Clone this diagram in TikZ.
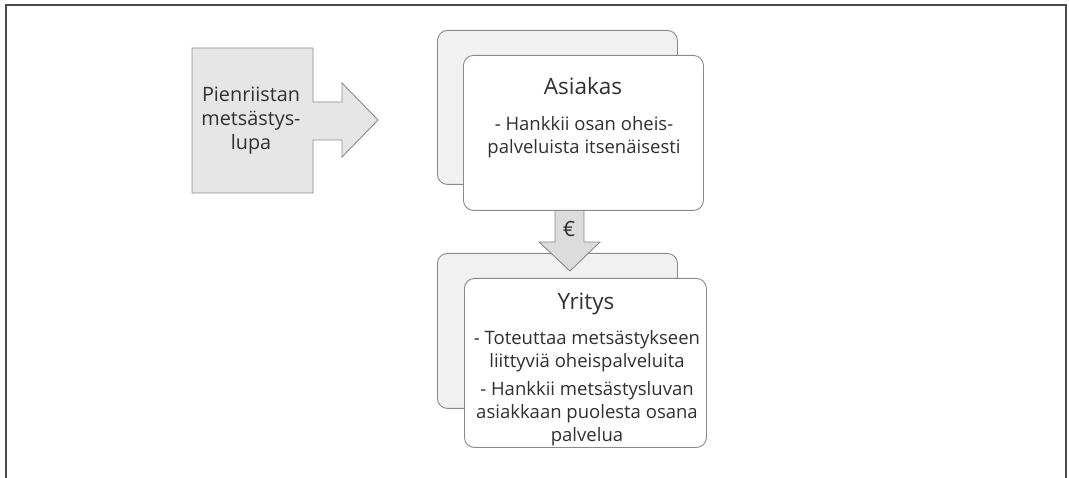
\documentclass[tikz,border=0pt]{standalone}
\usepackage{fontspec}
\setmainfont{Open Sans}
\definecolor{edge}{HTML}{8A8A8A}
\definecolor{frame}{HTML}{4A4A4A}
\definecolor{ink}{HTML}{303030}
\definecolor{permitfill}{HTML}{E6E6E6}
\definecolor{cardback}{HTML}{F1F1F1}
\definecolor{moneyfill}{HTML}{DCDCDC}
\begin{document}
\begin{tikzpicture}[x=1pt,y=-1pt,
  outline/.style={draw=edge, line width=0.9pt},
  backcard/.style={outline, rounded corners=10pt, fill=cardback, anchor=north west, inner sep=0pt},
  frontcard/.style={outline, rounded corners=10pt, fill=white, anchor=north west, inner sep=0pt},
  title/.style={text=ink, anchor=base, inner sep=0pt, font=\fontsize{22.5}{26}\selectfont},
  body/.style={text=ink, align=center, anchor=north, inner sep=0pt, font=\fontsize{18.5}{23.2}\selectfont},
]
\useasboundingbox (0,0) rectangle (1069,478);

% open frame around the figure
\draw[frame, line width=1.4pt] (6,478) -- (6,5) -- (1066,5) -- (1066,478);

% permit box with its arrow
\draw[outline, fill=permitfill]
  (192,48) -- (313,48) -- (313,102) -- (342,102) -- (342,83) -- (378,120)
  -- (342,157) -- (342,140) -- (313,140) -- (313,193) -- (192,193) -- cycle;
\node[body, font=\fontsize{19.8}{24}\selectfont] (permit) at (251,87)
  {Pienriistan\\metsästys-\\lupa};

% back cards
\node[backcard, minimum width=240pt, minimum height=154pt] (asiakasBack) at (437,30) {};
\node[backcard, minimum width=240pt, minimum height=155pt] (yritysBack) at (437,253) {};

% payment arrow from customer to company
\draw[outline, fill=moneyfill]
  (555,210) -- (584,210) -- (584,242) -- (600,242) -- (570,271)
  -- (539,242) -- (555,242) -- cycle;
\node[text=ink, anchor=base, inner sep=0pt, font=\fontsize{21}{24}\selectfont] (euro) at (569,237) {€};

% front cards
\node[frontcard, minimum width=240pt, minimum height=155pt] (asiakas) at (463,55) {};
\node[frontcard, minimum width=242pt, minimum height=169pt] (yritys) at (464,278) {};

% card texts
\node[title] (asiakasTitle) at (583,95) {Asiakas};
\node[body] (asiakasText) at (584,116)
  {- Hankkii osan oheis-\\palveluista itsenäisesti};

\node[title] (yritysTitle) at (586,310) {Yritys};
\node[body] (yritysText1) at (587,330)
  {- Toteuttaa metsästykseen\\liittyviä oheispalveluita};
\node[body] (yritysText2) at (587,381)
  {- Hankkii metsästysluvan\\asiakkaan puolesta osana\\palvelua};
\end{tikzpicture}
\end{document}
